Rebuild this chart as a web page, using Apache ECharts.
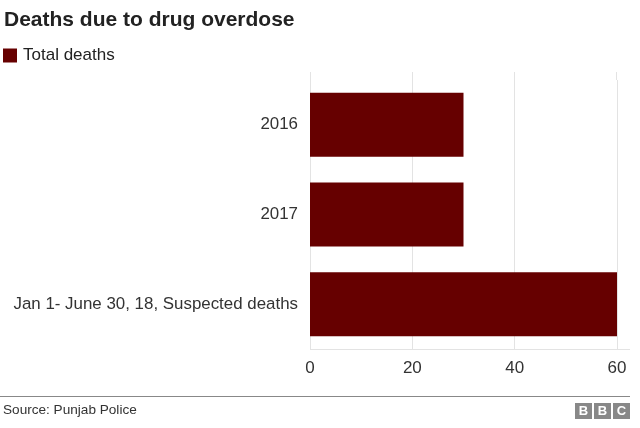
<!DOCTYPE html>
<html>
<head>
<meta charset="utf-8">
<script src="https://cdn.jsdelivr.net/npm/echarts@6/dist/echarts.min.js"></script>
<style>
html,body{margin:0;padding:0;background:#fff;}
#c{width:640px;height:428px;}
</style>
</head>
<body>
<div id="c"></div>
<script>
const categories = ['2016', '2017', 'Jan 1- June 30, 18, Suspected deaths'];
const totalDeaths = [30, 30, 60];
const xTicks = [0, 20, 40, 60];

const chart = echarts.init(document.getElementById('c'), null, {renderer: 'canvas'});
const font = 'Arial, "Liberation Sans", Helvetica, sans-serif';
chart.setOption({
  animation: false,
  textStyle: {fontFamily: font},
  title: {
    text: 'Deaths due to drug overdose',
    left: -1, top: 5,
    textStyle: {fontFamily: font, fontSize: 21, fontWeight: 'bold', color: '#222'}
  },
  legend: {
    left: -2, top: 42,
    itemWidth: 14, itemHeight: 14, itemGap: 8,
    icon: 'rect',
    textStyle: {fontFamily: font, fontSize: 17, color: '#222', padding: [0,0,0,1]},
    data: ['Total deaths']
  },
  grid: {left: 310, right: 23, top: 80, bottom: 79, containLabel: false},
  xAxis: {
    type: 'value', min: xTicks[0], max: xTicks[xTicks.length-1], interval: 20,
    axisLine: {show: false},
    axisTick: {show: false},
    axisLabel: {fontFamily: font, fontSize: 17, color: '#333', margin: 11},
    splitLine: {show: true, lineStyle: {color: '#e3e3e3', width: 1}}
  },
  yAxis: {
    type: 'category', data: categories, inverse: true,
    axisLine: {show: false},
    axisTick: {show: false},
    axisLabel: {fontFamily: font, fontSize: 16.9, color: '#333', margin: 12}
  },
  series: [{
    name: 'Total deaths', type: 'bar', data: totalDeaths,
    barWidth: 64,
    itemStyle: {color: '#660000'}
  }],
  graphic: [
    {type: 'rect', shape: {x: 310, y: 72, width: 1, height: 8}, style: {fill: '#e3e3e3'}, silent: true},
    {type: 'rect', shape: {x: 412, y: 72, width: 1, height: 8}, style: {fill: '#e3e3e3'}, silent: true},
    {type: 'rect', shape: {x: 514, y: 72, width: 1, height: 8}, style: {fill: '#e3e3e3'}, silent: true},
    {type: 'rect', shape: {x: 616, y: 72, width: 1, height: 8}, style: {fill: '#e3e3e3'}, silent: true},
    {type: 'rect', shape: {x: 310, y: 349, width: 320, height: 1}, style: {fill: '#e3e3e3'}, silent: true},
    {type: 'rect', shape: {x: 0, y: 396, width: 630, height: 1}, style: {fill: '#888'}, silent: true},
    {type: 'text', left: 3, top: 403, style: {text: 'Source: Punjab Police', font: '13.6px ' + font, fill: '#333'}},
    {type: 'group', left: 575, top: 403, children: [
      {type: 'rect', shape: {x: 0, y: 0, width: 17, height: 16}, style: {fill: '#888'}},
      {type: 'rect', shape: {x: 19, y: 0, width: 17, height: 16}, style: {fill: '#888'}},
      {type: 'rect', shape: {x: 38, y: 0, width: 17, height: 16}, style: {fill: '#888'}},
      {type: 'text', style: {x: 8.5, y: 8.5, text: 'B', font: 'bold 13px ' + font, fill: '#fff', align: 'center', verticalAlign: 'middle'}},
      {type: 'text', style: {x: 27.5, y: 8.5, text: 'B', font: 'bold 13px ' + font, fill: '#fff', align: 'center', verticalAlign: 'middle'}},
      {type: 'text', style: {x: 46.5, y: 8.5, text: 'C', font: 'bold 13px ' + font, fill: '#fff', align: 'center', verticalAlign: 'middle'}}
    ]}
  ]
});
</script>
</body>
</html>
